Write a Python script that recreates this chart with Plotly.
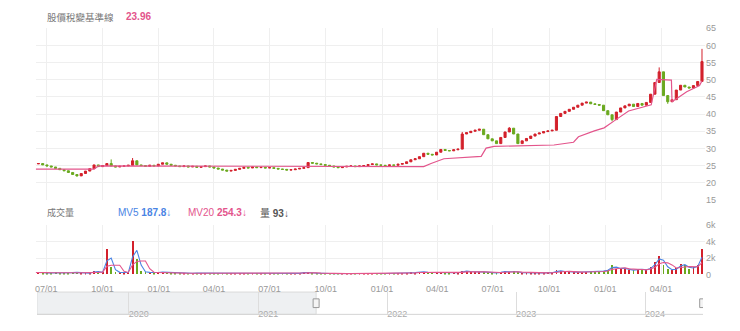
import pandas as pd
import plotly.graph_objects as go

# ---------------- data (weekly) ----------------
close_2021 = [25.5, 25.6, 25.2,
              24.9, 24.6, 24.2, 23.8, 23.5,
              23.0, 22.4, 22.0, 22.7,
              23.4, 24.1, 25.2, 24.7,
              25.0, 25.6, 24.9, 24.6, 24.8,
              24.9, 25.1, 26.4, 25.2,
              25.0, 24.8, 25.1, 24.9, 25.4]
close_2022 = [25.8, 25.4, 25.1, 24.9,
              24.7, 24.9, 24.6, 24.8,
              24.5, 24.7, 24.9, 24.6,
              24.3, 24.0, 23.7, 23.4, 23.6,
              23.9, 24.2, 24.5, 24.3,
              24.6, 24.4, 24.5, 24.3,
              24.4, 24.2, 24.0, 23.9, 23.7,
              23.8, 24.0, 24.2, 24.4,
              25.9, 25.7, 25.5, 25.3, 25.1,
              24.9, 24.6, 24.4, 24.6,
              24.8, 24.9, 24.7, 24.9,
              25.0, 25.3, 25.5, 25.2, 25.1]
close_2023 = [25.0, 25.2, 25.1, 25.4,
              25.6, 26.1, 26.7, 27.0,
              27.6, 28.6, 28.3, 28.1, 28.9,
              29.7, 29.4, 29.3, 29.6,
              29.8, 34.2, 34.6, 35.0,
              35.3, 35.6, 34.0, 32.8, 32.2,
              31.4, 33.2, 34.8, 35.9,
              34.2, 31.4, 32.2, 32.9,
              33.6, 34.2, 34.5, 34.9, 35.1,
              35.3, 39.3, 40.2, 40.8,
              41.4, 42.0, 42.6, 43.2,
              43.5, 43.0, 42.8, 42.6, 41.0]
close_2024 = [39.8, 38.4, 40.6, 41.8,
              42.4, 42.9, 42.2, 43.1,
              42.6, 43.4, 45.8, 49.2, 52.3,
              45.4, 43.6, 44.2, 47.0,
              48.4, 47.9, 47.6, 48.3, 49.5,
              55.3]
first_open = 25.3

wick_high = {"2021-10-15": 26.8, "2021-11-19": 27.2, "2023-05-12": 34.8,
             "2023-07-28": 36.2, "2024-03-29": 53.6, "2024-06-07": 59.0}
wick_low = {"2021-08-20": 21.8, "2024-01-12": 37.9, "2024-04-12": 43.0}

vol_2021 = [250, 300, 200,
            220, 180, 250, 150, 200,
            180, 300, 250, 200,
            150, 200, 450, 300,
            250, 3100, 900, 300, 250,
            200, 300, 4000, 1900,
            400, 300, 250, 200, 300]
vol_2022 = [300, 250, 200, 150,
            150, 200, 180, 150,
            200, 150, 120, 180,
            150, 200, 180, 150, 120,
            150, 180, 120, 100,
            120, 100, 150, 120,
            100, 120, 150, 100, 120,
            150, 120, 180, 300,
            250, 200, 150, 120, 150,
            120, 100, 150, 120,
            100, 120, 150, 130,
            150, 120, 100, 130, 150]
vol_2023 = [120, 150, 130, 160,
            180, 200, 250, 220,
            350, 300, 250, 280, 300,
            250, 220, 200, 250,
            200, 450, 400, 350,
            300, 350, 300, 250, 220,
            200, 350, 400, 300,
            450, 250, 200, 220,
            200, 180, 220, 200, 250,
            220, 500, 400, 350,
            300, 280, 320, 300,
            350, 300, 320, 400, 450]
vol_2024 = [600, 1100, 700, 800,
            700, 600, 500, 700,
            600, 550, 900, 1500, 2300,
            1200, 700, 500, 800,
            1300, 1100, 700, 900, 1100,
            3100]

base_dates = ["2021-06-11", "2021-09-17", "2021-09-24", "2023-03-10", "2023-03-22",
              "2023-04-12", "2023-06-12", "2023-06-20", "2023-07-03", "2023-10-09",
              "2023-11-10", "2023-11-18", "2023-12-14", "2023-12-30", "2024-01-16",
              "2024-02-08", "2024-03-16", "2024-03-25", "2024-04-18", "2024-04-19",
              "2024-05-13", "2024-06-03", "2024-06-07"]
base_values = [23.96, 23.96, 24.9, 24.7, 25.6,
               27.0, 27.7, 30.1, 30.6, 31.0,
               31.8, 33.4, 35.1, 36.0, 38.1,
               40.9, 42.7, 50.1, 49.9, 43.6,
               46.5, 48.3, 49.7]

y_ticks = [15, 20, 25, 30, 35, 40, 45, 50, 55, 60, 65]
vol_tickvals = [0, 2000, 4000, 6000]
vol_ticktext = ["0", "2k", "4k", "6k"]

main_range = ["2021-06-14", "2024-06-12"]
nav_range = ["2019-04-16", "2024-06-13"]

# ---------------- derived ----------------
close = close_2021 + close_2022 + close_2023 + close_2024
volume = vol_2021 + vol_2022 + vol_2023 + vol_2024
dates = pd.date_range("2021-06-11", periods=len(close), freq="W-FRI")
opens = [first_open] + close[:-1]
highs, lows = [], []
for d, o, c in zip(dates, opens, close):
    k = d.strftime("%Y-%m-%d")
    highs.append(wick_high.get(k, max(o, c)))
    lows.append(wick_low.get(k, min(o, c)))

RED = "#d3202b"
GREEN = "#6aa91f"
PINK = "#e3558c"
BLUE = "#4a84e4"
vol_colors = [RED if c >= o else GREEN for o, c in zip(opens, close)]
vs = pd.Series(volume, dtype=float)
mv5 = vs.rolling(2, min_periods=1).mean()
mv20 = vs.rolling(4, min_periods=1).mean()

W = 740.0
H = 331.0
def py(p):
    return 1 - p / H

fig = go.Figure()
fig.add_trace(go.Candlestick(
    x=dates, open=opens, high=highs, low=lows, close=close,
    increasing=dict(line=dict(color=RED, width=1), fillcolor=RED),
    decreasing=dict(line=dict(color=GREEN, width=1), fillcolor=GREEN),
    whiskerwidth=0, xaxis="x", yaxis="y", showlegend=False, hoverinfo="skip"))
fig.add_trace(go.Scatter(x=base_dates, y=base_values, mode="lines",
                         line=dict(color=PINK, width=1.2), xaxis="x", yaxis="y",
                         showlegend=False, hoverinfo="skip"))
fig.add_trace(go.Bar(x=dates, y=volume, marker=dict(color=vol_colors, line=dict(width=0)),
                     width=1.5 * 86400000, xaxis="x2", yaxis="y2", showlegend=False,
                     hoverinfo="skip"))
fig.add_trace(go.Scatter(x=dates, y=mv5, mode="lines", line=dict(color=BLUE, width=1.1),
                         xaxis="x2", yaxis="y2", showlegend=False, hoverinfo="skip"))
fig.add_trace(go.Scatter(x=dates, y=mv20, mode="lines", line=dict(color=PINK, width=1.1),
                         xaxis="x2", yaxis="y2", showlegend=False, hoverinfo="skip"))
fig.add_trace(go.Scatter(x=dates, y=close, mode="lines", line=dict(color="rgba(0,0,0,0)"),
                         xaxis="x3", yaxis="y3", showlegend=False, hoverinfo="skip"))

GRID = "#efefef"
TICKF = dict(family="Liberation Sans, Arial, sans-serif", size=9, color="#999999")
xdom = [35 / W, 705 / W]
common_x = dict(type="date", range=main_range, dtick="M3", tick0="2021-07-01",
                showgrid=True, gridcolor=GRID, gridwidth=1, zeroline=False,
                showline=False, tickformat="%m/%d", tickfont=TICKF)
fig.update_layout(
    width=740, height=331, margin=dict(l=0, r=0, t=0, b=0),
    paper_bgcolor="white", plot_bgcolor="white",
    font=dict(family="Liberation Sans, Noto Sans CJK TC, sans-serif"),
    xaxis=dict(domain=xdom, anchor="y", showticklabels=False,
               rangeslider=dict(visible=False), **common_x),
    yaxis=dict(domain=[py(201), py(24)], range=[15, 65], tickvals=y_ticks, side="right",
               showgrid=True, gridcolor=GRID, zeroline=False, tickfont=TICKF,
               ticks="", anchor="x"),
    xaxis2=dict(domain=xdom, anchor="y2", matches="x", ticks="outside", ticklen=6,
                tickcolor="rgba(0,0,0,0)", **common_x),
    yaxis2=dict(domain=[py(278), py(227)], range=[0, 6000], tickvals=vol_tickvals,
                ticktext=vol_ticktext, side="right", showgrid=True, gridcolor=GRID,
                zeroline=False, tickfont=TICKF, ticks="", anchor="x2"),
    xaxis3=dict(domain=[36 / W, 703 / W], anchor="y3", type="date", range=nav_range,
                dtick="M12", tick0="2020-01-01", tickformat="%Y", showgrid=True,
                gridcolor="#dddddd", zeroline=False, showline=False,
                ticklabelposition="inside right", ticks="", ticklabelstandoff=-10,
                tickfont=dict(family="Liberation Sans, Arial, sans-serif", size=9,
                              color="#aaaaaa")),
    yaxis3=dict(domain=[py(319), py(296)], range=[0, 100], visible=False,
                showgrid=False, anchor="x3"),
    bargap=0,
)

# navigator shading, border and handles
fig.add_shape(type="rect", xref="x3", yref="paper", x0=nav_range[0], x1=main_range[0],
              y0=py(319), y1=py(296), fillcolor="#eef0f2",
              line=dict(color="#dadada", width=1), layer="below")
fig.add_shape(type="line", xref="x3", yref="paper", x0=nav_range[0], x1=nav_range[1],
              y0=py(319), y1=py(319), line=dict(color="#d5d5d5", width=1))
for hx in main_range:
    fig.add_shape(type="rect", xref="x3", yref="paper", xsizemode="pixel", xanchor=hx,
                  x0=-3, x1=3, y0=py(312), y1=py(303), fillcolor="#f4f4f4",
                  line=dict(color="#999999", width=1))

CJK = "Noto Sans CJK TC, sans-serif"
NUM = "Liberation Sans, Arial, sans-serif"
ann = [
    dict(x=44, y=12, text="股價稅變基準線", font=dict(family=CJK, size=9.5, color="#777777")),
    dict(x=123, y=12, text="<b>23.96</b>", font=dict(family=NUM, size=10, color=PINK)),
    dict(x=44, y=214, text="成交量", font=dict(family=CJK, size=9, color="#777777")),
    dict(x=115, y=214, text="MV5 <b>187.8↓</b>", font=dict(family=NUM, size=10, color=BLUE)),
    dict(x=185, y=214, text="MV20 <b>254.3↓</b>", font=dict(family=NUM, size=10, color=PINK)),
    dict(x=257, y=214, text="<span style='font-family:Noto Sans CJK TC'>量</span> <b>93↓</b>",
         font=dict(family=NUM, size=10, color="#555555")),
]
for a in ann:
    fig.add_annotation(x=a["x"] / W, y=py(a["y"]), xref="paper", yref="paper",
                       xanchor="left", yanchor="middle", showarrow=False,
                       text=a["text"], font=a["font"])

fig.write_html("out.html")
